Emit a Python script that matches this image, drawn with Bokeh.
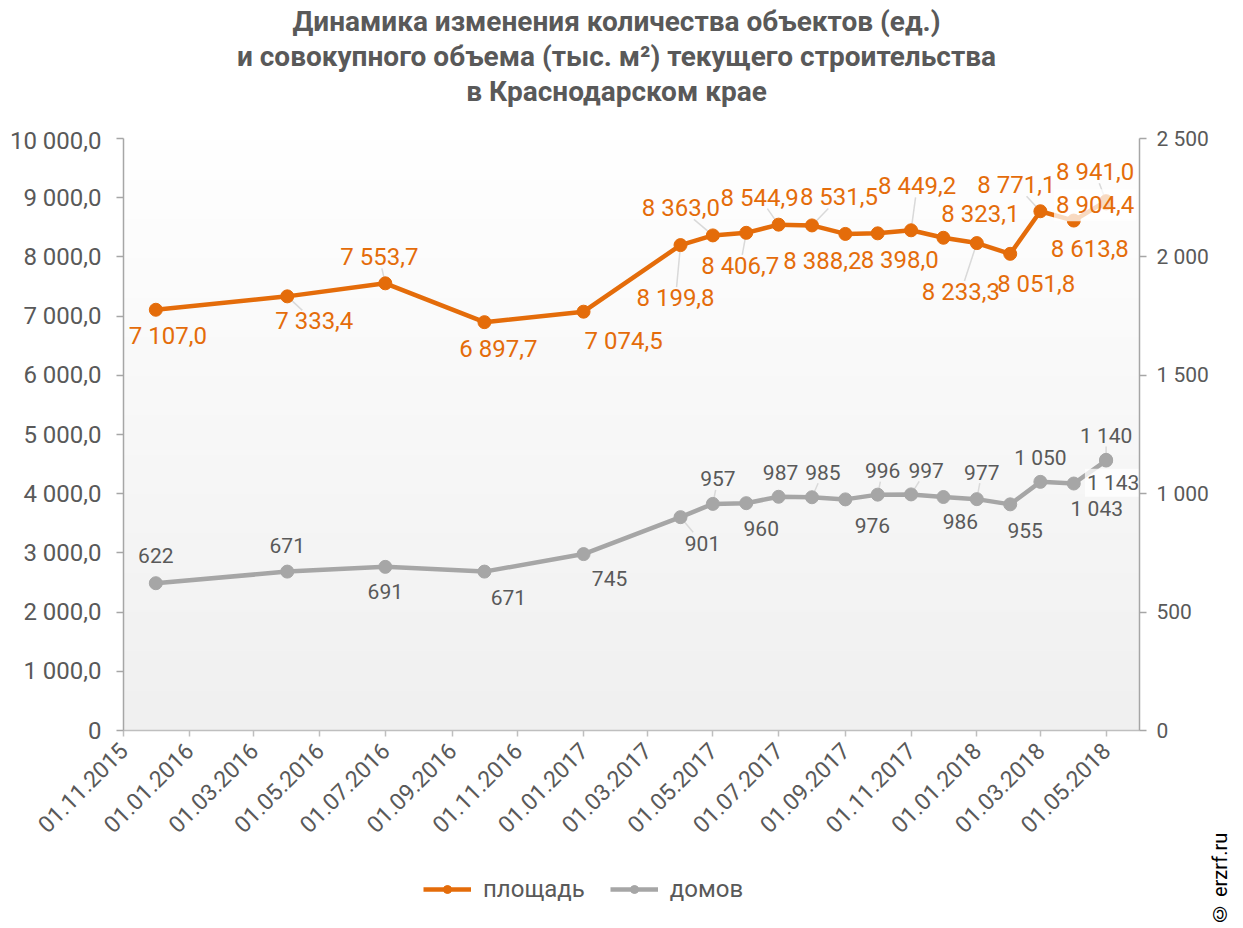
import math
import numpy as np
import pandas as pd
from bokeh.plotting import figure
from bokeh.layouts import row, column
from bokeh.models import (Range1d, LinearAxis, FixedTicker, Legend, LegendItem,
                          ColumnDataSource, Div)
from bokeh.embed import file_html
from bokeh.resources import INLINE
from bokeh.core.properties import value

# ---------------- data ----------------
dates = ["01.12.2015", "01.04.2016", "01.07.2016", "01.10.2016", "01.01.2017",
         "01.04.2017", "01.05.2017", "01.06.2017", "01.07.2017", "01.08.2017",
         "01.09.2017", "01.10.2017", "01.11.2017", "01.12.2017", "01.01.2018",
         "01.02.2018", "01.03.2018", "01.04.2018", "01.05.2018", "01.05.2018"]
area = [7107.0, 7333.4, 7553.7, 6897.7, 7074.5,
        8199.8, 8363.0, 8406.7, 8544.9, 8531.5,
        8388.2, 8398.0, 8449.2, 8323.1, 8233.3,
        8051.8, 8771.1, 8613.8, 8941.0, 8904.4]
houses = [622, 671, 691, 671, 745,
          901, 957, 960, 987, 985,
          976, 996, 997, 986, 977,
          955, 1050, 1043, 1140, 1143]

x_tick_labels = ["01.11.2015", "01.01.2016", "01.03.2016", "01.05.2016", "01.07.2016",
                 "01.09.2016", "01.11.2016", "01.01.2017", "01.03.2017", "01.05.2017",
                 "01.07.2017", "01.09.2017", "01.11.2017", "01.01.2018", "01.03.2018",
                 "01.05.2018"]
left_ticks = [0, 1000, 2000, 3000, 4000, 5000, 6000, 7000, 8000, 9000, 10000]
left_tick_labels = ["0", "1 000,0", "2 000,0", "3 000,0", "4 000,0", "5 000,0",
                    "6 000,0", "7 000,0", "8 000,0", "9 000,0", "10 000,0"]
right_ticks = [0, 500, 1000, 1500, 2000, 2500]
right_tick_labels = ["0", "500", "1 000", "1 500", "2 000", "2 500"]

title_lines = ["Динамика изменения количества объектов (ед.)",
               "и совокупного объема (тыс. м²) текущего строительства",
               "в Краснодарском крае"]
series_names = ["площадь", "домов"]
copyright_text = "© erzrf.ru"

# ---------------- styling (label placement in pixels) ----------------
area_lbl_off = [(12, 26), (27, 25), (-6, -26), (14, 27), (40, 29),
                (-5, 53), (-32, -27), (-6, 33), (-19, -27), (27, -28),
                (-23, 27), (22, 27), (6, -44), (37, -24), (-16, 49),
                (26, 30), (-24, -26), (16, 28), (-11, -29), (-11, 2)]
area_leader = [0, 1, 1, 0, 0, 1, 1, 1, 1, 1, 0, 0, 1, 0, 1, 0, 1, 0, 1, 0]
house_lbl_off = [(0, -28), (0, -26), (0, 25), (24, 26), (26, 24),
                 (22, 26), (5, -25), (15, 25), (2, -24), (11, -25),
                 (27, 26), (5, -24), (15, -24), (17, 24), (5, -27),
                 (15, 26), (0, -24), (23, 25), (0, -25), (7, 23)]
house_leader = [0, 0, 0, 0, 0, 1, 1, 0, 0, 1, 0, 1, 1, 0, 1, 0, 0, 0, 1, 0]
boxed = [0] * 19 + [1]

ORANGE = "#E46C0A"
GRAY = "#A6A6A6"
TEXT = "#595959"
FONT = "Roboto"

def to_ms(s):
    return pd.to_datetime(s, format="%d.%m.%Y").value / 1e6

def fmt_area(v):
    return f"{v:,.1f}".replace(",", " ").replace(".", ",")

def fmt_int(v):
    return f"{v:,d}".replace(",", " ")

xs = [to_ms(d) for d in dates]
x_ticks = [to_ms(d) for d in x_tick_labels]
x0 = to_ms("01.11.2015")
x1 = to_ms("01.06.2018")

W, H = 1243, 928
DIVW = 32
PW = W - DIVW
TITLE_H = 126
LEG_H = 66
PH = H - TITLE_H - LEG_H
FL, FR, FT, FB = 123, 69, 12, 132
FW, FH = PW - FL - FR, PH - FT - FB

p = figure(width=PW, height=PH, output_backend="svg", toolbar_location=None,
           x_range=Range1d(x0, x1), y_range=Range1d(0, 10000),
           min_border_left=FL, min_border_right=FR, min_border_top=FT, min_border_bottom=FB,
           background_fill_color="white", border_fill_color="white")
p.extra_y_ranges = {"right": Range1d(0, 2500)}
p.outline_line_color = None
p.xgrid.visible = False
p.ygrid.visible = False

# gradient plot-area background
n = 256
img = np.empty((n, 1), dtype=np.uint32)
view = img.view(dtype=np.uint8).reshape((n, 1, 4))
t = np.linspace(0, 1, n)
g = (240 + 15 * t).astype(np.uint8)
view[:, 0, 0] = g
view[:, 0, 1] = g
view[:, 0, 2] = g
view[:, 0, 3] = 255
p.image_rgba(image=[img], x=x0, y=0, dw=x1 - x0, dh=10000, level="image")

# axes
def style_axis(ax, color, size):
    ax.axis_line_color = color
    ax.axis_line_width = 1.5
    ax.major_tick_line_color = color
    ax.major_tick_line_width = 1.5
    ax.major_tick_in = 0
    ax.major_tick_out = 7
    ax.minor_tick_line_color = None
    ax.major_label_text_font = FONT
    ax.major_label_text_font_size = size
    ax.major_label_text_color = TEXT

xa = p.xaxis[0]
style_axis(xa, "#BFBFBF", "23px")
xa.major_tick_out = 6
xa.ticker = FixedTicker(ticks=x_ticks)
xa.major_label_overrides = {float(k): v for k, v in zip(x_ticks, x_tick_labels)}
xa.major_label_orientation = math.pi / 4
xa.major_label_standoff = 10

ya = p.yaxis[0]
style_axis(ya, "#A6A6A6", "24px")
ya.ticker = FixedTicker(ticks=left_ticks)
ya.major_label_overrides = {float(k): v for k, v in zip(left_ticks, left_tick_labels)}
ya.major_label_standoff = 15

ra = LinearAxis(y_range_name="right")
style_axis(ra, "#A6A6A6", "21px")
ra.ticker = FixedTicker(ticks=right_ticks)
ra.major_label_overrides = {float(k): v for k, v in zip(right_ticks, right_tick_labels)}
ra.major_label_standoff = 10
p.add_layout(ra, "right")

# leader lines (pixel offsets converted into data units)
ms_per_px = (x1 - x0) / FW
l_per_px = 10000 / FH
r_per_px = 2500 / FH

def leaders(vals, offs, flags, per_px):
    sx, sy, ex, ey = [], [], [], []
    for x, v, (dx, dy), f in zip(xs, vals, offs, flags):
        if not f:
            continue
        ddy = dy - math.copysign(11, dy)
        ddx = dx * (ddy / dy) if dy else dx
        sx.append(x); sy.append(v)
        ex.append(x + ddx * ms_per_px); ey.append(v - ddy * per_px)
    return dict(x0=sx, y0=sy, x1=ex, y1=ey)

p.segment(source=ColumnDataSource(leaders(area, area_lbl_off, area_leader, l_per_px)),
          x0="x0", y0="y0", x1="x1", y1="y1", line_color="#D9D9D9", line_width=1.5)
p.segment(source=ColumnDataSource(leaders(houses, house_lbl_off, house_leader, r_per_px)),
          x0="x0", y0="y0", x1="x1", y1="y1", line_color="#D9D9D9", line_width=1.5,
          y_range_name="right")

# series
src = ColumnDataSource(dict(x=xs, area=area, houses=houses))
p.line("x", "area", source=src, line_color=ORANGE, line_width=4.5)
p.scatter("x", "area", source=src, size=13, fill_color=ORANGE, line_color=ORANGE)
p.line("x", "houses", source=src, line_color=GRAY, line_width=4.5, y_range_name="right")
p.scatter("x", "houses", source=src, size=13, fill_color=GRAY, line_color=GRAY,
          y_range_name="right")

# data labels
def label_src(vals, offs, fmt, want_box):
    d = dict(x=[], y=[], t=[], dx=[], dy=[])
    for x, v, (dx, dy), b in zip(xs, vals, offs, boxed):
        if b != want_box:
            continue
        d["x"].append(x); d["y"].append(v); d["t"].append(fmt(v))
        d["dx"].append(dx); d["dy"].append(dy)
    return ColumnDataSource(d)

for vals, offs, fmt, col, rng, fs in [(area, area_lbl_off, fmt_area, ORANGE, "default", "24px"),
                                      (houses, house_lbl_off, fmt_int, TEXT, "right", "21px")]:
    for b in (0, 1):
        kw = {}
        if b:
            kw = dict(background_fill_color="white", background_fill_alpha=0.75,
                      padding=2)
        p.text("x", "y", text="t", x_offset="dx", y_offset="dy",
               source=label_src(vals, offs, fmt, b), text_align="center",
               text_baseline="middle", text_font=value(FONT), text_font_size=fs,
               text_color=col, y_range_name=rng, **kw)

# title block
title_div = Div(text=('<div style="box-sizing:border-box; width:%dpx; padding:4px 0 0 22px; '
                      'text-align:center; font-family:Roboto; font-weight:bold; font-size:28px; '
                      'line-height:35px; color:%s; white-space:nowrap;">%s</div>'
                      % (PW, TEXT, "<br>".join(title_lines))),
                width=PW, height=TITLE_H, margin=0)

# legend (own small figure below the chart; swatch renderers sit outside its visible range)
lf = figure(width=PW, height=LEG_H, output_backend="svg", toolbar_location=None,
            x_range=Range1d(0, 1), y_range=Range1d(0, 1), min_border=0,
            x_axis_location=None, y_axis_location=None,
            background_fill_color="white", border_fill_color="white")
lf.outline_line_color = None
lf.xgrid.visible = False
lf.ygrid.visible = False
off_x, off_y = [-5, -4], [-5, -5]
r1 = lf.line(x=off_x, y=off_y, line_color=ORANGE, line_width=4.5)
r2 = lf.scatter(x=off_x, y=off_y, size=13, fill_color=ORANGE, line_color=ORANGE)
r3 = lf.line(x=off_x, y=off_y, line_color=GRAY, line_width=4.5)
r4 = lf.scatter(x=off_x, y=off_y, size=13, fill_color=GRAY, line_color=GRAY)
legend = Legend(items=[LegendItem(label=series_names[0], renderers=[r1, r2]),
                       LegendItem(label=series_names[1], renderers=[r3, r4])],
                orientation="horizontal", location=(300, 25),
                glyph_width=48, glyph_height=20, label_text_font=FONT,
                label_text_font_size="24px", label_text_color=TEXT,
                background_fill_alpha=0, border_line_color=None, spacing=25,
                label_standoff=12, padding=6, margin=0)
lf.add_layout(legend, "center")

# copyright, vertical, bottom-right corner
div = Div(text=('<div style="position:absolute; left:-6px; top:828px; width:30px; height:98px; '
                'writing-mode:vertical-rl; transform:rotate(180deg); font-family:Roboto; '
                'font-size:20px; line-height:30px; color:#000; white-space:nowrap;">'
                + copyright_text + '</div>'),
          width=DIVW, height=H, margin=0, styles={"position": "relative"})

lay = row(column(title_div, p, lf, spacing=0), div, spacing=0)
open("out.html", "w").write(file_html(lay, INLINE))
